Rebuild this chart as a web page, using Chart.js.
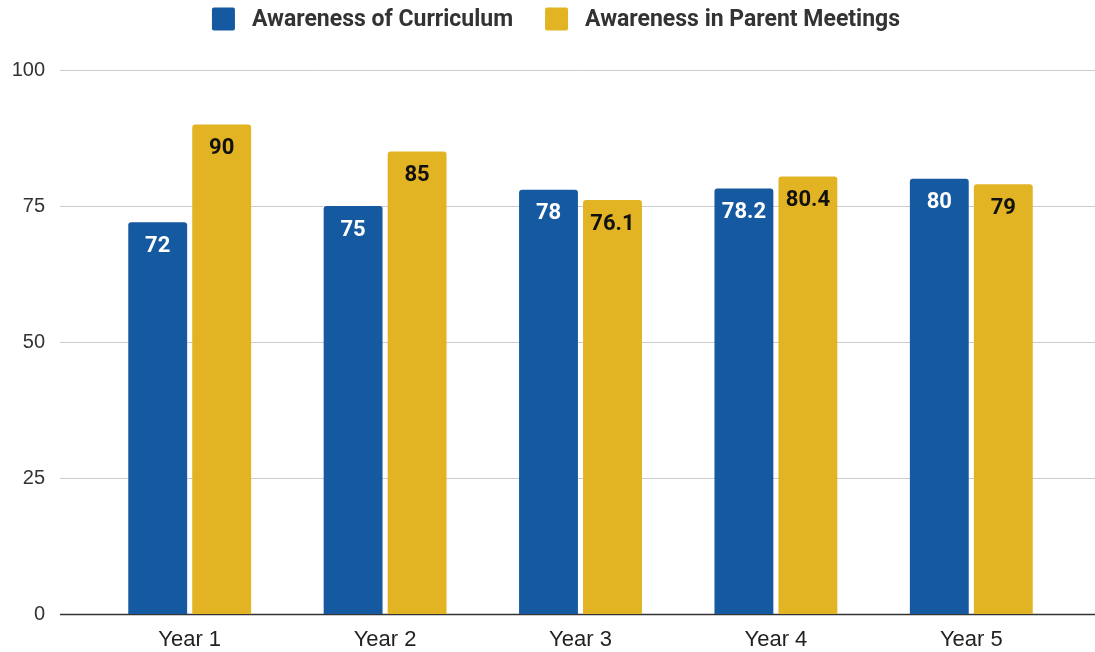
<!DOCTYPE html>
<html lang="en">
<head>
  <meta charset="UTF-8" />
  <title>Awareness by Year</title>
  <script src="https://cdn.jsdelivr.net/npm/chart.js"></script>
  <style>
    html, body { margin: 0; padding: 0; background: #fff; }
    #wrap { width: 1095px; height: 652px; }
  </style>
</head>
<body>
  <div id="wrap"><canvas id="awarenessChart" width="1095" height="652"></canvas></div>

  <script>
    const years = ['Year 1', 'Year 2', 'Year 3', 'Year 4', 'Year 5'];
    const curriculum = [72, 75, 78, 78.2, 80];
    const parentMeetings = [90, 85, 76.1, 80.4, 79];
    const yTicks = [0, 25, 50, 75, 100];

    const blue = '#155aa0';
    const gold = '#e2b323';

    // grid lines run wider than the bars, so draw them by hand
    const gridLines = {
      id: 'gridLines',
      beforeDatasetsDraw(chart) {
        const ctx = chart.ctx;
        const y = chart.scales.y;
        ctx.save();
        yTicks.forEach(t => {
          const py = Math.round(y.getPixelForValue(t)) + 0.5;
          ctx.strokeStyle = t === 0 ? '#333333' : '#cccccc';
          ctx.lineWidth = t === 0 ? 1.5 : 1;
          ctx.beginPath();
          ctx.moveTo(60, py);
          ctx.lineTo(1095, py);
          ctx.stroke();
        });
        ctx.restore();
      }
    };

    const barLabels = {
      id: 'barLabels',
      afterDatasetsDraw(chart) {
        const ctx = chart.ctx;
        ctx.save();
        ctx.font = 'bold 22px Roboto';
        ctx.textAlign = 'center';
        ctx.textBaseline = 'middle';
        chart.data.datasets.forEach((ds, i) => {
          chart.getDatasetMeta(i).data.forEach((bar, j) => {
            ctx.fillStyle = i === 0 ? '#ffffff' : '#111111';
            ctx.fillText(String(ds.data[j]), bar.x, bar.y + 24);
          });
        });
        ctx.restore();
      }
    };

    // simple legend at the top
    const topLegend = {
      id: 'topLegend',
      afterDraw(chart) {
        const ctx = chart.ctx;
        const box = 23, gapText = 17, gapItem = 32, cy = 19;
        ctx.save();
        ctx.font = 'bold 23px Roboto';
        ctx.textBaseline = 'middle';
        const ds = chart.data.datasets;
        const widths = ds.map(d => ctx.measureText(d.label).width);
        let total = 0;
        widths.forEach((w, i) => { total += box + gapText + w + (i < ds.length - 1 ? gapItem : 0); });
        let x = 556 - total / 2;
        ds.forEach((d, i) => {
          ctx.fillStyle = d.backgroundColor;
          ctx.beginPath();
          ctx.roundRect(x, cy - box / 2, box, box, 2);
          ctx.fill();
          x += box + gapText;
          ctx.fillStyle = '#333333';
          ctx.fillText(d.label, x, cy + 1);
          x += widths[i] + gapItem;
        });
        ctx.restore();
      }
    };

    new Chart(document.getElementById('awarenessChart'), {
      type: 'bar',
      data: {
        labels: years,
        datasets: [
          {
            label: 'Awareness of Curriculum',
            data: curriculum,
            backgroundColor: blue,
            borderRadius: { topLeft: 3, topRight: 3 },
            borderSkipped: 'bottom'
          },
          {
            label: 'Awareness in Parent Meetings',
            data: parentMeetings,
            backgroundColor: gold,
            borderRadius: { topLeft: 3, topRight: 3 },
            borderSkipped: 'bottom'
          }
        ]
      },
      options: {
        responsive: false,
        animation: false,
        layout: { padding: { top: 70, right: 26, bottom: 0, left: 0 } },
        categoryPercentage: 0.655,
        barPercentage: 0.92,
        plugins: {
          legend: { display: false },
          tooltip: { enabled: false }
        },
        scales: {
          x: {
            afterFit(scale) { scale.height = 38; },
            grid: { display: false },
            border: { display: false },
            ticks: {
              color: '#222222',
              padding: 5,
              font: { family: 'Liberation Sans', size: 22 }
            }
          },
          y: {
            min: 0,
            max: 100,
            afterBuildTicks(scale) {
              scale.ticks = yTicks.map(v => ({ value: v }));
            },
            afterFit(scale) {
              scale.width = 92;
              scale.paddingTop = 0;
              scale.paddingBottom = 0;
            },
            grid: { display: false },
            border: { display: false },
            ticks: {
              color: '#333333',
              padding: 39,
              font: { family: 'Liberation Sans', size: 20 }
            }
          }
        }
      },
      plugins: [gridLines, barLabels, topLegend]
    });
  </script>
</body>
</html>
